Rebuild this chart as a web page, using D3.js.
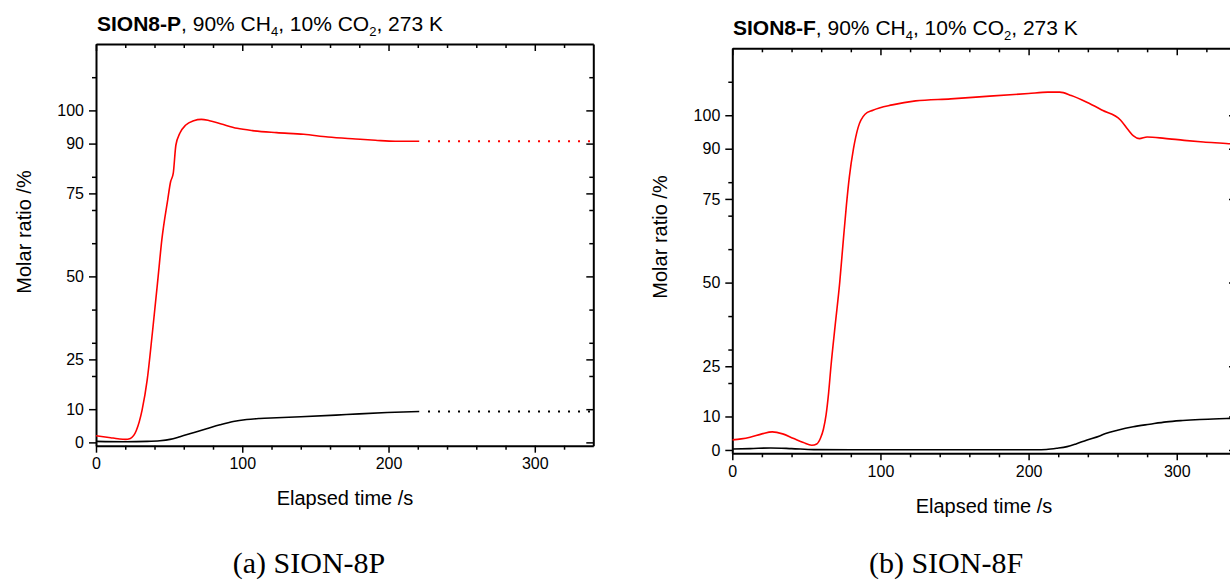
<!DOCTYPE html>
<html><head><meta charset="utf-8">
<script src="https://cdn.jsdelivr.net/npm/d3@7"></script>
<style>
html,body{margin:0;padding:0;background:#fff;}
svg{display:block;}
</style></head>
<body>
<svg id="chart" width="1230" height="580"></svg>
<script>
// ---------- data ----------
const xMajorTicks = [0, 100, 200, 300];
const xMinorTicks = [20, 40, 60, 80, 120, 140, 160, 180, 220, 240, 260, 280, 320];
const yMajorTicks = [0, 10, 25, 50, 75, 90, 100];
const yMinorTicks = [20, 30, 40, 60, 70, 80, 110];
const xDomain = [0, 340];
const yDomain = [-1, 120];

// SION8-P : [time s, molar ratio %]
const pRed = [[0,2.0],[5,1.7],[10,1.4],[15,1.1],[20,0.9],[23.5,1.2],[27.5,3.5],[31.5,9.7],[35,18.8],[38.5,32.8],[42.5,50],[45,61],[49,73],[51,78.5],[52.8,81],[54.6,89.5],[57.3,93.1],[61.4,95.6],[66.8,96.9],[72,97.3],[77.6,96.9],[85.7,95.9],[96.5,94.6],[107,93.9],[123.5,93.3],[142,92.8],[158.6,92],[177.5,91.4],[191,91],[204.6,90.7],[221,90.7]];
const pBlack = [[0,0.3],[20,0.2],[35,0.3],[43.7,0.5],[50.6,0.9],[57.4,1.7],[66.5,2.9],[75.6,4.1],[84.8,5.3],[93.8,6.3],[103,6.9],[112,7.2],[123.5,7.4],[140,7.7],[164,8.2],[180,8.6],[199,9.0],[221,9.3]];
const pRedExt = [[227,90.7],[340,90.7]];
const pBlackExt = [[227,9.3],[340,9.3]];

// SION8-F
const fRed = [[0,3.0],[6,3.3],[12,3.8],[20,4.8],[27,5.4],[34,4.8],[41,3.5],[48,2.2],[53.6,1.4],[57,1.8],[59.5,3.5],[61.5,6.2],[63.3,10.5],[65,17],[66.6,25],[69.5,37.5],[72.5,50],[75,63],[77,73],[79,81.5],[81.8,90],[84.9,96.3],[89.6,100.3],[94.9,101.5],[108,103.1],[123.7,104.3],[147.4,104.9],[173.7,105.7],[200,106.5],[213,106.9],[221,106.9],[228.8,105.9],[239.3,103.9],[249.8,101.5],[262,98.6],[266.9,95.8],[270.8,93.8],[274.8,93.0],[280,93.5],[291.8,93.1],[305,92.5],[318,92],[335,91.5],[340,91.3]];
const fBlack = [[0,0.3],[12,0.4],[26,0.6],[40,0.4],[55,0.1],[80,0.05],[150,0.05],[205,0.05],[212,0.15],[219,0.5],[226,1.0],[232,1.8],[239,2.9],[248,4.2],[252,4.9],[260,5.9],[270.6,6.95],[281.8,7.7],[293,8.4],[304,8.8],[315.6,9.1],[333.6,9.4],[340,9.5]];

const panels = [
  {id:"p", bold:"SION8-P", caption:"(a) SION-8P", red:pRed, black:pBlack, redExt:pRedExt, blackExt:pBlackExt,
   x0:96, x1:593.3, yT:44, yB:445.7, titleX:97, titleY:31, capX:309, capY:573, xtX:345, xtY:505, ytX:31, ytY:232},
  {id:"f", bold:"SION8-F", caption:"(b) SION-8F", red:fRed, black:fBlack, redExt:null, blackExt:null,
   x0:732.3, x1:1236, yT:48.3, yB:453.3, titleX:733, titleY:34.5, capX:946, capY:573, xtX:984, xtY:513, ytX:667, ytY:237}
];

const svg = d3.select("#chart");
svg.append("rect").attr("width",1230).attr("height",580).attr("fill","#fff");

const FONT = "'Liberation Sans', Arial, sans-serif";

panels.forEach(P => {
  const x = d3.scaleLinear().domain(xDomain).range([P.x0, P.x1]);
  const y = d3.scaleLinear().domain(yDomain).range([P.yB, P.yT]);
  const g = svg.append("g");

  g.append("clipPath").attr("id","clip-"+P.id).append("rect")
    .attr("x",P.x0).attr("y",P.yT).attr("width",P.x1-P.x0).attr("height",P.yB-P.yT);

  const styleAxis = sel => {
    sel.selectAll(".domain").attr("stroke","#000").attr("stroke-width",2);
    sel.selectAll(".tick line").attr("stroke","#000").attr("stroke-width",1.5);
    sel.selectAll(".tick text").attr("font-family",FONT).attr("font-size",16).attr("fill","#000");
  };

  // bottom
  const bMaj = g.append("g").attr("transform",`translate(0,${P.yB})`)
    .call(d3.axisBottom(x).tickValues(xMajorTicks).tickSize(7).tickSizeOuter(0).tickPadding(5).tickFormat(d3.format("d")));
  styleAxis(bMaj);
  const bMin = g.append("g").attr("transform",`translate(0,${P.yB})`)
    .call(d3.axisBottom(x).tickValues(xMinorTicks).tickSize(4).tickSizeOuter(0).tickFormat(""));
  styleAxis(bMin); bMin.select(".domain").remove();
  // top
  const tMaj = g.append("g").attr("transform",`translate(0,${P.yT})`)
    .call(d3.axisTop(x).tickValues(xMajorTicks).tickSize(-7).tickSizeOuter(0).tickFormat(""));
  styleAxis(tMaj);
  const tMin = g.append("g").attr("transform",`translate(0,${P.yT})`)
    .call(d3.axisTop(x).tickValues(xMinorTicks).tickSize(-4).tickSizeOuter(0).tickFormat(""));
  styleAxis(tMin); tMin.select(".domain").remove();
  // left
  const lMaj = g.append("g").attr("transform",`translate(${P.x0},0)`)
    .call(d3.axisLeft(y).tickValues(yMajorTicks).tickSize(7).tickSizeOuter(0).tickPadding(5).tickFormat(d3.format("d")));
  styleAxis(lMaj);
  const lMin = g.append("g").attr("transform",`translate(${P.x0},0)`)
    .call(d3.axisLeft(y).tickValues(yMinorTicks).tickSize(4).tickSizeOuter(0).tickFormat(""));
  styleAxis(lMin); lMin.select(".domain").remove();
  // right
  const rMaj = g.append("g").attr("transform",`translate(${P.x1},0)`)
    .call(d3.axisRight(y).tickValues(yMajorTicks).tickSize(-7).tickSizeOuter(0).tickFormat(""));
  styleAxis(rMaj);
  const rMin = g.append("g").attr("transform",`translate(${P.x1},0)`)
    .call(d3.axisRight(y).tickValues(yMinorTicks).tickSize(-4).tickSizeOuter(0).tickFormat(""));
  styleAxis(rMin); rMin.select(".domain").remove();

  // curves
  const line = d3.line().x(d=>x(d[0])).y(d=>y(d[1])).curve(d3.curveMonotoneX);
  const cg = g.append("g").attr("clip-path",`url(#clip-${P.id})`);
  cg.append("path").datum(P.black).attr("d",line).attr("fill","none").attr("stroke","#000").attr("stroke-width",1.6);
  cg.append("path").datum(P.red).attr("d",line).attr("fill","none").attr("stroke","#ff0000").attr("stroke-width",1.6);
  if (P.redExt) {
    cg.append("path").datum(P.redExt).attr("d",d3.line().x(d=>x(d[0])).y(d=>y(d[1])))
      .attr("fill","none").attr("stroke","#ff0000").attr("stroke-width",1.8).attr("stroke-dasharray","2 8");
    cg.append("path").datum(P.blackExt).attr("d",d3.line().x(d=>x(d[0])).y(d=>y(d[1])))
      .attr("fill","none").attr("stroke","#000").attr("stroke-width",1.8).attr("stroke-dasharray","2 8");
  }

  // title
  const t = g.append("text").attr("x",P.titleX).attr("y",P.titleY)
    .attr("font-family",FONT).attr("font-size",21).attr("fill","#000");
  t.append("tspan").attr("font-weight","bold").text(P.bold);
  t.append("tspan").text(", 90% CH");
  t.append("tspan").attr("font-size",13).attr("dy",5).text("4");
  t.append("tspan").attr("dy",-5).text(", 10% CO");
  t.append("tspan").attr("font-size",13).attr("dy",5).text("2");
  t.append("tspan").attr("dy",-5).text(", 273 K");

  // axis titles
  g.append("text").attr("x",P.xtX).attr("y",P.xtY).attr("text-anchor","middle")
    .attr("font-family",FONT).attr("font-size",20).attr("fill","#000").text("Elapsed time /s");
  g.append("text").attr("transform",`translate(${P.ytX},${P.ytY}) rotate(-90)`).attr("text-anchor","middle")
    .attr("font-family",FONT).attr("font-size",20).attr("fill","#000").text("Molar ratio /%");

  // caption
  g.append("text").attr("x",P.capX).attr("y",P.capY).attr("text-anchor","middle")
    .attr("font-family","'Liberation Serif', 'Times New Roman', serif").attr("font-size",30).attr("fill","#000").text(P.caption);
});
</script>
</body></html>
